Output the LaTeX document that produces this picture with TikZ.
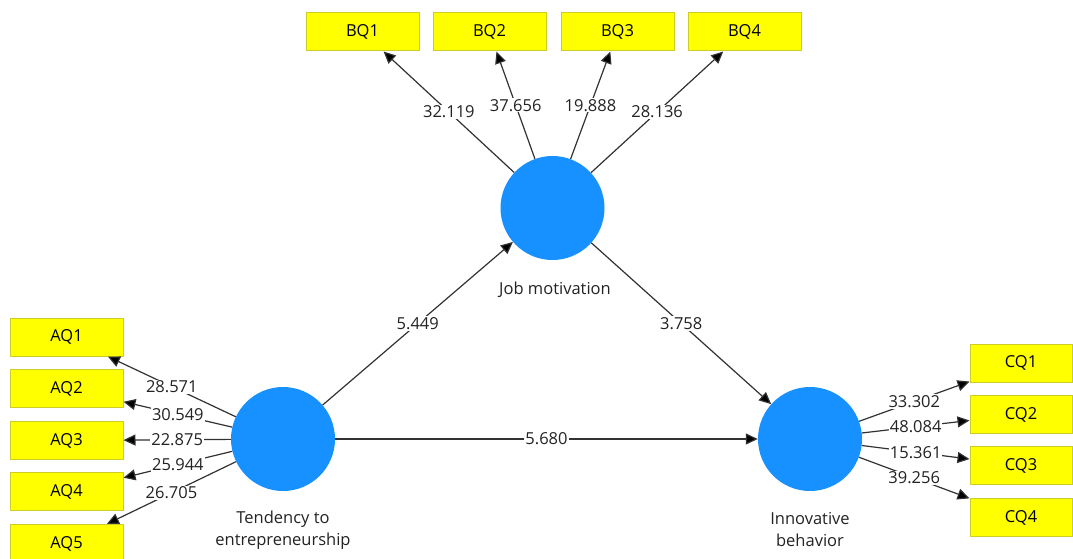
\documentclass[tikz,border=0pt]{standalone}
\usepackage{fontspec}
\setmainfont{Open Sans}
\usetikzlibrary{arrows.meta}
\definecolor{lvblue}{RGB}{22,145,255}
\definecolor{boxyellow}{RGB}{255,255,0}
\definecolor{boxedge}{RGB}{205,205,40}
\definecolor{edgegray}{RGB}{50,50,50}
\definecolor{txtgray}{RGB}{35,35,35}
\tikzset{
  ind/.style={draw=boxedge, line width=1pt, fill=boxyellow, minimum width=113pt, minimum height=38pt, inner sep=0pt, font=\fontsize{16.5}{18}\selectfont, text=black},
  indc/.style={ind, minimum width=102pt},
  lv/.style={circle, fill=lvblue, minimum size=104pt, inner sep=0pt},
  lvlabel/.style={align=center, font=\fontsize{16.5}{22}\selectfont, text=txtgray},
  arr/.style={draw=edgegray, line width=1.2pt, -{Triangle[length=12pt,width=11pt,fill=black]}},
  lbl/.style={fill=white, inner sep=1pt, font=\fontsize{16.5}{18}\selectfont, text=txtgray}
}
\begin{document}
\begin{tikzpicture}[x=1pt,y=-1pt]
\useasboundingbox (0,0) rectangle (1073,559);
\clip (0,0) rectangle (1073,559);
\fill[white] (0,0) rectangle (1073,559);
% latent variables
\node[lv] (jm) at (552.5,208) {};
\node[lv] (te) at (283,439) {};
\node[lv] (ib) at (810,439) {};
\node[lvlabel] (jml) at (555,290) {Job motivation};
\node[lvlabel] (tel) at (283,530) {Tendency to\\entrepreneurship};
\node[lvlabel] (ibl) at (810,530) {Innovative\\behavior};
% indicators
\node[ind] (BQ1) at (362.5,32) {BQ1};
\node[ind] (BQ2) at (489.5,32) {BQ2};
\node[ind] (BQ3) at (617.5,32) {BQ3};
\node[ind] (BQ4) at (744.5,32) {BQ4};
\node[ind] (AQ1) at (66.5,337) {AQ1};
\node[ind] (AQ2) at (66.5,388.5) {AQ2};
\node[ind] (AQ3) at (66.5,440.5) {AQ3};
\node[ind] (AQ4) at (66.5,491.5) {AQ4};
\node[ind] (AQ5) at (66.5,543.5) {AQ5};
\node[indc] (CQ1) at (1021,363) {CQ1};
\node[indc] (CQ2) at (1021,414.5) {CQ2};
\node[indc] (CQ3) at (1021,465.5) {CQ3};
\node[indc] (CQ4) at (1021,517.5) {CQ4};
% outer loadings
\draw[arr] (jm) -- node[lbl,midway] {32.119} (BQ1);
\draw[arr] (jm) -- node[lbl,midway] {37.656} (BQ2);
\draw[arr] (jm) -- node[lbl,midway] {19.888} (BQ3);
\draw[arr] (jm) -- node[lbl,midway] {28.136} (BQ4);
\draw[arr] (te) -- node[lbl,midway] {28.571} (AQ1);
\draw[arr] (te) -- node[lbl,midway] {30.549} (AQ2);
\draw[arr] (te) -- node[lbl,midway] {22.875} (AQ3);
\draw[arr] (te) -- node[lbl,midway] {25.944} (AQ4);
\draw[arr] (te) -- node[lbl,midway] {26.705} (AQ5);
\draw[arr] (ib) -- node[lbl,midway] {33.302} (CQ1);
\draw[arr] (ib) -- node[lbl,midway] {48.084} (CQ2);
\draw[arr] (ib) -- node[lbl,midway] {15.361} (CQ3);
\draw[arr] (ib) -- node[lbl,midway] {39.256} (CQ4);
% path coefficients
\draw[arr] (te) -- node[lbl,midway] {5.449} (jm);
\draw[arr] (jm) -- node[lbl,midway] {3.758} (ib);
\draw[arr] (te) -- node[lbl,midway] {5.680} (ib);
\end{tikzpicture}
\end{document}
